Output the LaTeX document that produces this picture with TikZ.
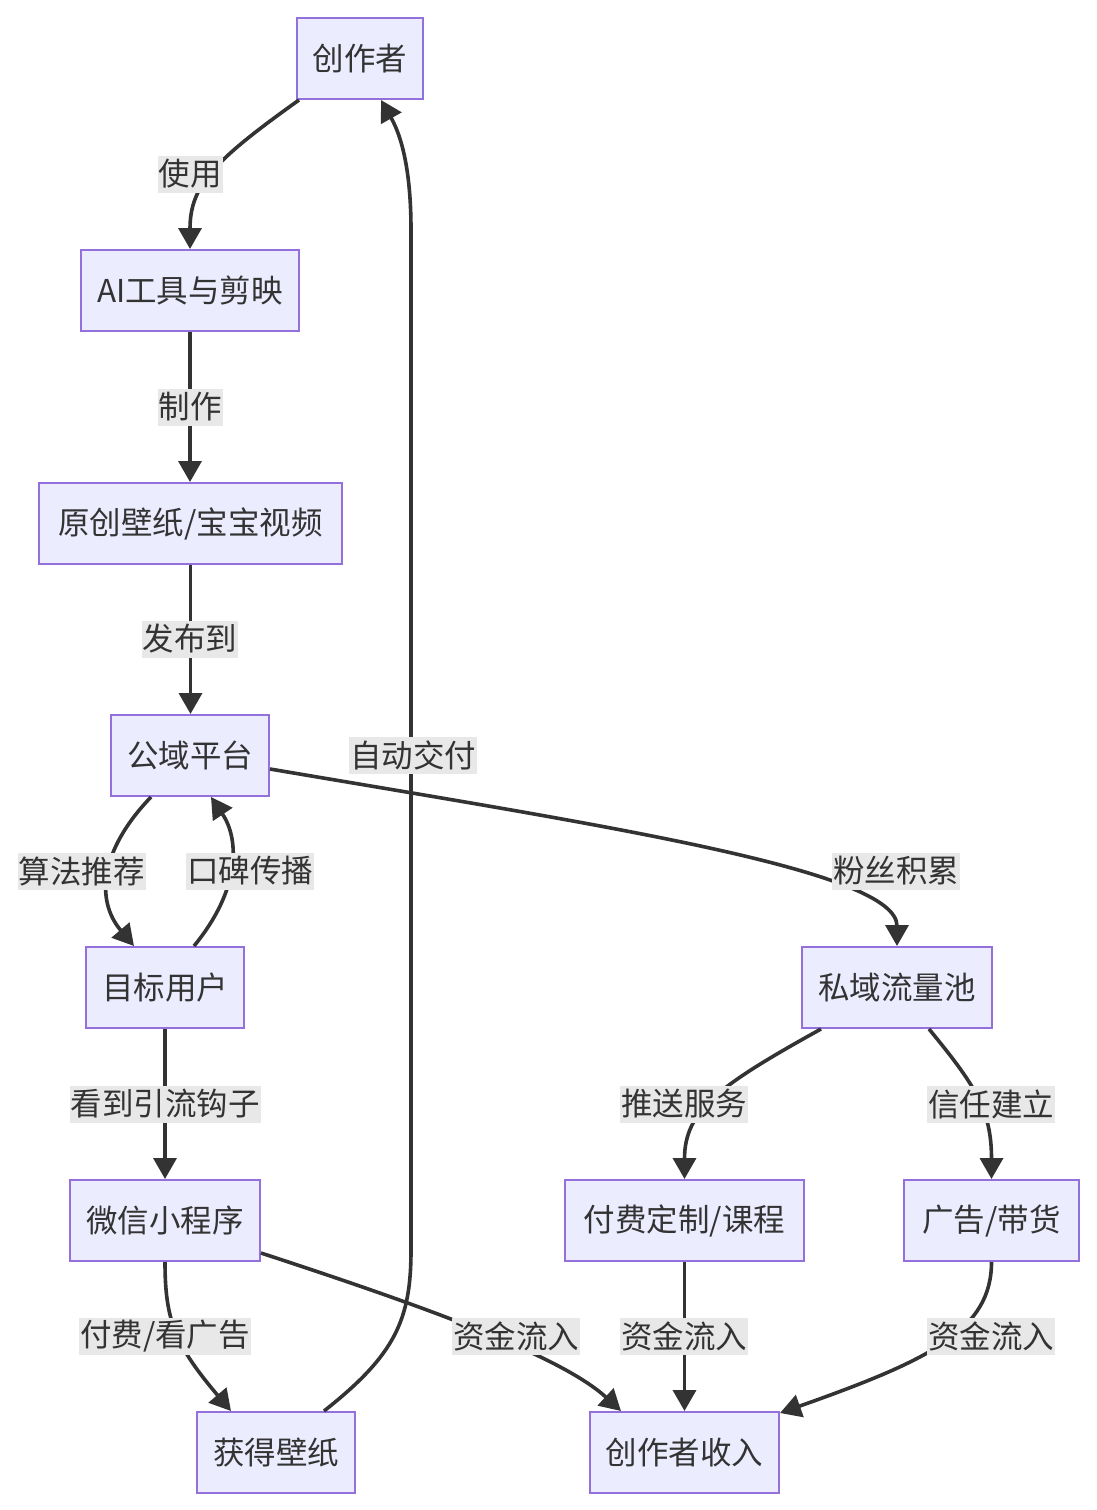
\documentclass[tikz,border=0pt]{standalone}
\usepackage{fontspec}
\setmainfont{Noto Sans CJK SC}
\usetikzlibrary{arrows.meta}
\definecolor{nodefill}{HTML}{ECECFF}
\definecolor{nodeborder}{HTML}{9370DB}
\definecolor{txt}{HTML}{333333}
\definecolor{edgec}{HTML}{333333}
\definecolor{lblbg}{HTML}{E8E8E8}
\tikzset{
  box/.style={draw=nodeborder, line width=2pt, fill=nodefill, text=txt,
    minimum height=81pt, inner sep=2pt, font=\fontsize{31.5pt}{36pt}\selectfont},
  lbl/.style={fill=lblbg, text=txt, inner xsep=1pt, inner ysep=0pt,
    minimum height=37pt, font=\fontsize{31.5pt}{36pt}\selectfont},
  conn/.style={draw=edgec, line width=3.6pt, -{Triangle[length=21pt,width=23pt]}},
}
\begin{document}
\begin{tikzpicture}[x=1pt,y=-1pt]
\useasboundingbox (0,0) rectangle (1096,1510);
% nodes
\node[box, minimum width=126pt] (c)  at (360,58.5) {创作者};
\node[box, minimum width=218pt] (ai) at (190,290.5) {AI工具与剪映};
\node[box, minimum width=303pt] (yc) at (190.5,523.5) {原创壁纸/宝宝视频};
\node[box, minimum width=158pt] (gy) at (190,755.5) {公域平台};
\node[box, minimum width=158pt] (mb) at (165,987.5) {目标用户};
\node[box, minimum width=190pt] (sy) at (897,987.5) {私域流量池};
\node[box, minimum width=190pt] (wx) at (165,1220.5) {微信小程序};
\node[box, minimum width=239pt] (ff) at (684.5,1220.5) {付费定制/课程};
\node[box, minimum width=175pt] (gg) at (991.5,1220.5) {广告/带货};
\node[box, minimum width=158pt] (hd) at (276,1452.5) {获得壁纸};
\node[box, minimum width=189pt] (sr) at (684.5,1452.5) {创作者收入};
% connectors
\draw[conn] ([xshift=3pt]c.south west) .. controls (215,160) and (190,185) .. (ai.north);
\draw[conn] (ai.south) -- (ai.south |- yc.north);
\draw[conn] (yc.south) -- (yc.south |- gy.north);
\draw[conn] ([xshift=41pt]gy.south west) .. controls (100,850) and (95,900) .. ([xshift=49pt]mb.north west);
\draw[conn] ([xshift=109pt]mb.north west) .. controls (240,890) and (240,840) .. ([xshift=101pt]gy.south west);
\draw[conn] ([yshift=-13.5pt]gy.east) .. controls (600,825) and (897,870) .. (sy.north);
\draw[conn] (mb.south) -- (wx.north);
\draw[conn] ([xshift=20pt]sy.south west) .. controls (720,1085) and (684.5,1110) .. (ff.north);
\draw[conn] ([xshift=128pt]sy.south west) .. controls (975,1085) and (991.5,1110) .. (gg.north);
\draw[conn] (wx.south) .. controls (165,1320) and (175,1345) .. ([xshift=35pt]hd.north west);
\draw[conn] ([yshift=9pt]wx.south east) .. controls (420,1305) and (560,1355) .. ([xshift=32pt]sr.north west);
\draw[conn] (ff.south) -- (sr.north);
\draw[conn] (gg.south) .. controls (991.5,1330) and (930,1360) .. ([yshift=-2pt]sr.north east);
\draw[conn] ([xshift=128pt]hd.north west) .. controls (395,1355) and (411,1320) .. (411,1250)
   -- (411,230) .. controls (411,160) and (398,130) .. ([xshift=85pt]c.south west);
% labels
\node[lbl] (l1) at (190,174) {使用};
\node[lbl] (l2) at (190,407) {制作};
\node[lbl] (l3) at (190,639) {发布到};
\node[lbl] (l4) at (82,871) {算法推荐};
\node[lbl] (l5) at (250,871) {口碑传播};
\node[lbl] (l6) at (896,871) {粉丝积累};
\node[lbl] (l7) at (165,1104) {看到引流钩子};
\node[lbl] (l8) at (684,1104) {推送服务};
\node[lbl] (l9) at (991,1104) {信任建立};
\node[lbl] (l10) at (165,1336) {付费/看广告};
\node[lbl] (l11) at (516,1336) {资金流入};
\node[lbl] (l12) at (684,1336) {资金流入};
\node[lbl] (l13) at (991,1336) {资金流入};
\node[lbl] (l14) at (413,755) {自动交付};
\end{tikzpicture}
\end{document}
